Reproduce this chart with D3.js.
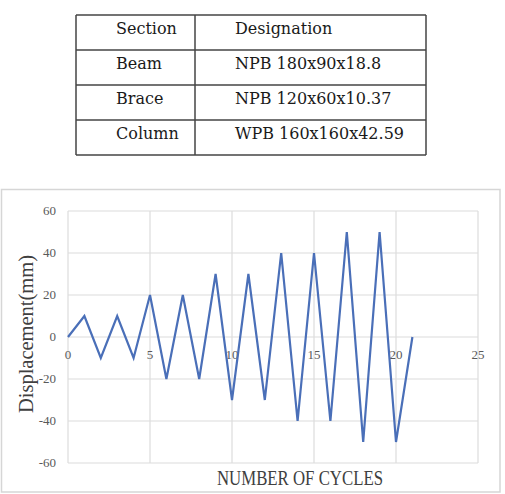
<!DOCTYPE html>
<html lang='en'>
  <head>
    <style type='text/css'>
      body {margin: 0; background-color: #fff;}
      svg {display: block;}
    </style>
  </head>
  <body>
    <svg id='chart' width='505' height='494'></svg>
    <script src='https://d3js.org/d3.v7.min.js'></script>
    <script type='text/javascript'>
        // Table contents
        var headers = ["Section", "Designation"];
        var sections = ["Beam", "Brace", "Column"];
        var designations = ["NPB 180x90x18.8", "NPB 120x60x10.37", "WPB 160x160x42.59"];

        // Loading protocol
        var cycles = [0, 1, 2, 3, 4, 5, 6, 7, 8, 9, 10, 11, 12, 13, 14, 15, 16, 17, 18, 19, 20, 21];
        var displacement = [0, 10, -10, 10, -10, 20, -20, 20, -20, 30, -30, 30, -30, 40, -40, 40, -40, 50, -50, 50, -50, 0];
        var xTicks = [0, 5, 10, 15, 20, 25];
        var yTicks = [-60, -40, -20, 0, 20, 40, 60];

        var svg = d3.select("#chart");

        /* ---------- table ---------- */
        var tbl = svg.append("g");
        var rows = [headers].concat(sections.map(function(s, i){ return [s, designations[i]]; }));
        var rowY = d3.scaleBand().domain(d3.range(rows.length)).range([15, 155]);
        var colX = [76, 195, 426];

        tbl.selectAll("text.c0").data(rows).enter().append("text")
          .attr("x", 116)
          .attr("y", function(d, i){ return rowY(i) + 19; })
          .text(function(d){ return d[0]; });
        tbl.selectAll("text.c1").data(rows).enter().append("text")
          .attr("x", 235)
          .attr("y", function(d, i){ return rowY(i) + 19; })
          .text(function(d){ return d[1]; });
        tbl.selectAll("text")
          .attr("font-family", "DejaVu Serif")
          .attr("font-size", 16)
          .attr("fill", "#1a1a1a");

        var lineCol = "#444";
        tbl.selectAll("line.h").data(d3.range(rows.length + 1)).enter().append("line")
          .attr("x1", colX[0]).attr("x2", colX[2])
          .attr("y1", function(i){ return i < rows.length ? rowY(i) : 155; })
          .attr("y2", function(i){ return i < rows.length ? rowY(i) : 155; })
          .attr("stroke", lineCol).attr("stroke-width", 1.5);
        tbl.selectAll("line.v").data(colX).enter().append("line")
          .attr("x1", function(d){ return d; }).attr("x2", function(d){ return d; })
          .attr("y1", 15).attr("y2", 155)
          .attr("stroke", lineCol).attr("stroke-width", 1.5);

        /* ---------- chart ---------- */
        svg.append("rect")
          .attr("x", 1.5).attr("y", 189.5).attr("width", 498.5).attr("height", 302.5)
          .attr("fill", "#fff").attr("stroke", "#d6d6d6").attr("stroke-width", 1.5);

        var x = d3.scaleLinear().domain([0, 25]).range([68, 478]);
        var y = d3.scaleLinear().domain([-60, 60]).range([463, 211]);

        var g = svg.append("g");

        // gridlines
        g.selectAll("line.gy").data(yTicks).enter().append("line")
          .attr("x1", x(0)).attr("x2", x(25))
          .attr("y1", function(d){ return y(d); }).attr("y2", function(d){ return y(d); })
          .attr("stroke", "#dcdcdc").attr("stroke-width", 1.2);
        g.selectAll("line.gx").data(xTicks).enter().append("line")
          .attr("x1", function(d){ return x(d); }).attr("x2", function(d){ return x(d); })
          .attr("y1", y(60)).attr("y2", y(-60))
          .attr("stroke", "#dcdcdc").attr("stroke-width", 1.2);

        // y tick labels
        g.selectAll("text.yt").data(yTicks).enter().append("text")
          .attr("x", 56)
          .attr("y", function(d){ return y(d) + 4; })
          .attr("text-anchor", "end")
          .attr("font-family", "Liberation Serif")
          .attr("font-size", 13)
          .attr("fill", "#595959")
          .text(function(d){ return d; });

        // x tick labels sit on the zero line
        g.selectAll("text.xt").data(xTicks).enter().append("text")
          .attr("x", function(d){ return x(d); })
          .attr("y", y(0) + 22)
          .attr("text-anchor", "middle")
          .attr("font-family", "Liberation Serif")
          .attr("font-size", 13)
          .attr("fill", "#595959")
          .text(function(d){ return d; });

        // series
        var pts = cycles.map(function(c, i){ return [c, displacement[i]]; });
        g.append("path")
          .datum(pts)
          .attr("fill", "none")
          .attr("stroke", "#4a6fb8")
          .attr("stroke-width", 2.2)
          .attr("stroke-linejoin", "miter")
          .attr("d", d3.line().x(function(d){ return x(d[0]); }).y(function(d){ return y(d[1]); }));

        // axis titles
        svg.append("text")
          .attr("transform", "translate(33,334) rotate(-90)")
          .attr("text-anchor", "middle")
          .attr("font-family", "Liberation Serif")
          .attr("font-size", 20)
          .attr("textLength", 158)
          .attr("lengthAdjust", "spacingAndGlyphs")
          .attr("fill", "#404040")
          .text("Displacement(mm)");
        svg.append("text")
          .attr("x", 300).attr("y", 485)
          .attr("text-anchor", "middle")
          .attr("font-family", "Liberation Serif")
          .attr("font-size", 21)
          .attr("textLength", 166)
          .attr("lengthAdjust", "spacingAndGlyphs")
          .attr("fill", "#404040")
          .text("NUMBER OF CYCLES");
    </script>
  </body>
</html>
